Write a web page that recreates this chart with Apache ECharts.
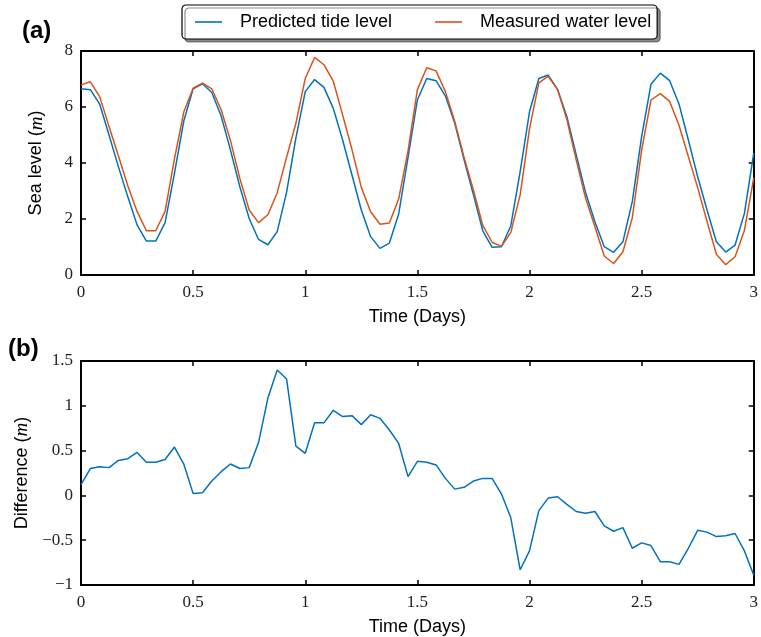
<!DOCTYPE html>
<html>
  <head>
    <meta charset="utf-8" />
    <title>Tide level</title>
    <script src="https://cdn.jsdelivr.net/npm/echarts@6/dist/echarts.min.js"></script>
    <style>
      body { margin: 0; background: #fff; }
    </style>
  </head>
  <body>
    <div id="main" style="width: 761px;height:637px;"></div>
    <script type="text/javascript">
      // hourly samples over 3 days
      var hours = [];
      for (var h = 0; h <= 72; h++) hours.push(h / 24);

      var predicted = [6.65, 6.62, 6.10, 5.00, 3.87, 2.80, 1.79, 1.21, 1.21, 1.87, 3.63, 5.50,
        6.65, 6.83, 6.52, 5.68, 4.46, 3.15, 2.02, 1.27, 1.08, 1.55, 2.95, 4.90,
        6.55, 6.98, 6.70, 5.95, 4.82, 3.57, 2.32, 1.37, 0.95, 1.14, 2.18, 4.20,
        6.25, 7.02, 6.94, 6.39, 5.42, 4.11, 2.86, 1.58, 0.99, 1.01, 1.76, 3.69,
        5.83, 7.02, 7.14, 6.63, 5.65, 4.29, 2.95, 1.90, 1.01, 0.81, 1.19, 2.62,
        4.94, 6.81, 7.21, 6.94, 6.11, 4.82, 3.51, 2.32, 1.19, 0.82, 1.07, 2.20, 4.35];

      var measured = [6.79, 6.90, 6.37, 5.30, 4.26, 3.20, 2.27, 1.58, 1.58, 2.27, 4.15, 5.82,
        6.67, 6.85, 6.65, 5.90, 4.80, 3.45, 2.32, 1.87, 2.15, 2.94, 4.20, 5.42,
        7.02, 7.77, 7.51, 6.92, 5.72, 4.48, 3.13, 2.26, 1.81, 1.86, 2.72, 4.43,
        6.62, 7.40, 7.29, 6.55, 5.48, 4.20, 3.03, 1.77, 1.17, 1.02, 1.52, 2.86,
        5.22, 6.86, 7.10, 6.62, 5.55, 4.11, 2.75, 1.72, 0.68, 0.41, 0.83, 2.04,
        4.45, 6.25, 6.48, 6.20, 5.35, 4.23, 3.12, 1.91, 0.74, 0.37, 0.65, 1.59, 3.47];

      var difference = [0.12, 0.30, 0.32, 0.31, 0.39, 0.41, 0.48, 0.37, 0.37, 0.40, 0.54, 0.35,
        0.02, 0.03, 0.16, 0.265, 0.35, 0.30, 0.31, 0.59, 1.086, 1.40, 1.30, 0.55,
        0.47, 0.81, 0.81, 0.95, 0.88, 0.89, 0.79, 0.90, 0.86, 0.73, 0.58, 0.21,
        0.38, 0.37, 0.34, 0.19, 0.07, 0.09, 0.16, 0.19, 0.19, 0.015, -0.25, -0.83,
        -0.62, -0.17, -0.03, -0.015, -0.10, -0.18, -0.20, -0.18, -0.34, -0.40, -0.36, -0.59,
        -0.53, -0.56, -0.74, -0.74, -0.77, -0.59, -0.39, -0.41, -0.46, -0.45, -0.425, -0.62, -0.89];

      function pairs(ys) {
        return ys.map(function (y, i) { return [hours[i], y]; });
      }

      var BLUE = '#0072bd', ORANGE = '#d95319';
      var serif = 'Liberation Serif', sans = 'Liberation Sans';

      function fmt(v) {
        return v < 0 ? '\u2212' + Math.abs(v) : String(v);
      }

      var frameLine = { show: true, onZero: false, lineStyle: { color: '#000', width: 2 } };
      var tick = { show: true, inside: true, length: 5, lineStyle: { color: '#000', width: 1.5 } };
      var tickLabel = { fontFamily: serif, fontSize: 17, color: '#222', formatter: fmt };
      var nameStyle = {
        fontFamily: sans, fontSize: 18, color: '#000',
        rich: { i: { fontFamily: serif, fontStyle: 'italic', fontSize: 19, color: '#000' } }
      };

      function xAxes(gi) {
        return [
          { type: 'value', gridIndex: gi, min: 0, max: 3, interval: 0.5, position: 'bottom',
            axisLine: frameLine, axisTick: tick, splitLine: { show: false },
            axisLabel: Object.assign({ margin: 9 }, tickLabel),
            name: 'Time (Days)', nameLocation: 'middle', nameGap: 33, nameTextStyle: nameStyle },
          { type: 'value', gridIndex: gi, min: 0, max: 3, interval: 0.5, position: 'top',
            axisLine: frameLine, axisTick: tick, splitLine: { show: false }, axisLabel: { show: false } }
        ];
      }

      function yAxes(gi, min, max, step, name, gap) {
        return [
          { type: 'value', gridIndex: gi, min: min, max: max, interval: step, position: 'left',
            axisLine: frameLine, axisTick: tick, splitLine: { show: false },
            axisLabel: Object.assign({ margin: 8 }, tickLabel),
            name: name, nameLocation: 'middle', nameGap: gap, nameTextStyle: nameStyle },
          { type: 'value', gridIndex: gi, min: min, max: max, interval: step, position: 'right',
            axisLine: frameLine, axisTick: tick, splitLine: { show: false }, axisLabel: { show: false } }
        ];
      }

      var myChart = echarts.init(document.getElementById('main'));
      myChart.setOption({
        animation: false,
        backgroundColor: '#fff',
        legend: {
          left: 182, top: 5,
          padding: [8, 6, 8, 13],
          itemGap: 43, itemWidth: 27, itemHeight: 1.6, icon: 'rect',
          backgroundColor: '#fff', borderColor: '#000', borderWidth: 1.2, borderRadius: 4,
          shadowColor: 'rgba(0,0,0,0.45)', shadowOffsetX: 3, shadowOffsetY: 3, shadowBlur: 0,
          textStyle: { fontFamily: sans, fontSize: 18, color: '#000', padding: [0, 0, 0, 13] },
          data: ['Predicted tide level', 'Measured water level']
        },
        graphic: [
          { type: 'text', left: 22, top: 19, style: { text: '(a)', font: 'bold 24px "Liberation Sans"', fill: '#000' } },
          { type: 'text', left: 8, top: 337, style: { text: '(b)', font: 'bold 24px "Liberation Sans"', fill: '#000' } }
        ],
        grid: [
          { left: 81, top: 51, width: 675, height: 224 },
          { left: 81, top: 361, width: 675, height: 224 }
        ],
        xAxis: xAxes(0).concat(xAxes(1)),
        yAxis: yAxes(0, 0, 8, 2, 'Sea level ({i|m})', 35).concat(yAxes(1, -1, 1.5, 0.5, 'Difference ({i|m})', 49)),
        series: [
          { name: 'Predicted tide level', type: 'line', xAxisIndex: 0, yAxisIndex: 0, symbol: 'none',
            data: pairs(predicted), lineStyle: { color: BLUE, width: 1.5 }, itemStyle: { color: BLUE } },
          { name: 'Measured water level', type: 'line', xAxisIndex: 0, yAxisIndex: 0, symbol: 'none',
            data: pairs(measured), lineStyle: { color: ORANGE, width: 1.5 }, itemStyle: { color: ORANGE } },
          { name: 'Difference', type: 'line', xAxisIndex: 2, yAxisIndex: 2, symbol: 'none',
            data: pairs(difference), lineStyle: { color: BLUE, width: 1.5 }, itemStyle: { color: BLUE } }
        ]
      });
    </script>
  </body>
</html>
